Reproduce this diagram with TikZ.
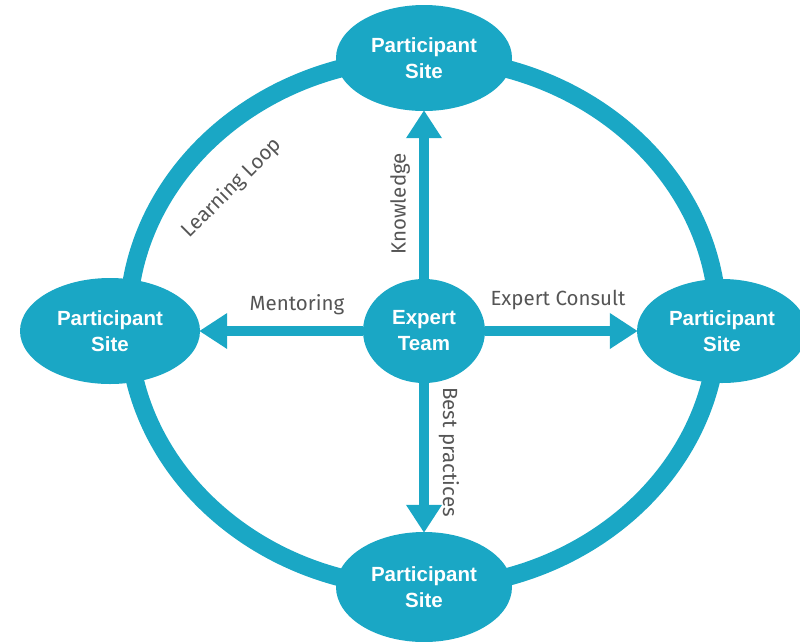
\documentclass[tikz,border=0pt]{standalone}
\usepackage{fontspec}
\setmainfont{Liberation Sans}
\newfontfamily\labelfont{Fira Sans}
\usetikzlibrary{shapes.geometric,arrows.meta}
\definecolor{teal}{HTML}{1AA7C5}
\definecolor{labelgrey}{HTML}{555555}
\tikzset{
  site/.style={ellipse, fill=teal, text=white, font=\fontsize{20.5}{26}\selectfont\bfseries,
    align=center, inner sep=0pt},
  flow/.style={draw=teal, line width=10pt,
    -{Triangle[length=28pt,width=34pt]}, shorten >=-1pt},
  lbl/.style={text=labelgrey, font=\labelfont\fontsize{20.5}{24}\selectfont, inner sep=0pt},
}
\begin{document}
\begin{tikzpicture}[x=1pt,y=-1pt]
\useasboundingbox (0,0) rectangle (800,641);
% learning loop ring
\draw[teal, line width=18pt] (423,323) ellipse [x radius=295, y radius=265];
% participant sites
\node[site, minimum width=176pt, minimum height=106pt] (top) at (424,58) {Participant\\Site};
\node[site, minimum width=180pt, minimum height=106pt] (left) at (110,331) {Participant\\Site};
\node[site, minimum width=170pt, minimum height=104pt] (right) at (722,331) {Participant\\Site};
\node[site, minimum width=176pt, minimum height=110pt] (bottom) at (424,587) {Participant\\Site};
% expert team hub
\node[site, minimum width=122pt, minimum height=104pt] (team) at (424,331) {Expert\\Team};
% flows out of the hub
\draw[flow] (team.north) -- (top.south);
\draw[flow] (team.south) -- (bottom.north);
\draw[flow] (team.west) -- (left.east);
\draw[flow] (team.east) -- (right.west);
% labels
\node[lbl, rotate=90] (kn) at (400,204) {Knowledge};
\node[lbl, rotate=-90] (bp) at (449,452) {Best practices};
\node[lbl] (mt) at (297,305) {Mentoring};
\node[lbl] (ec) at (558,300) {Expert Consult};
\node[lbl, rotate=45] (ll) at (232,188) {Learning Loop};
\end{tikzpicture}
\end{document}
